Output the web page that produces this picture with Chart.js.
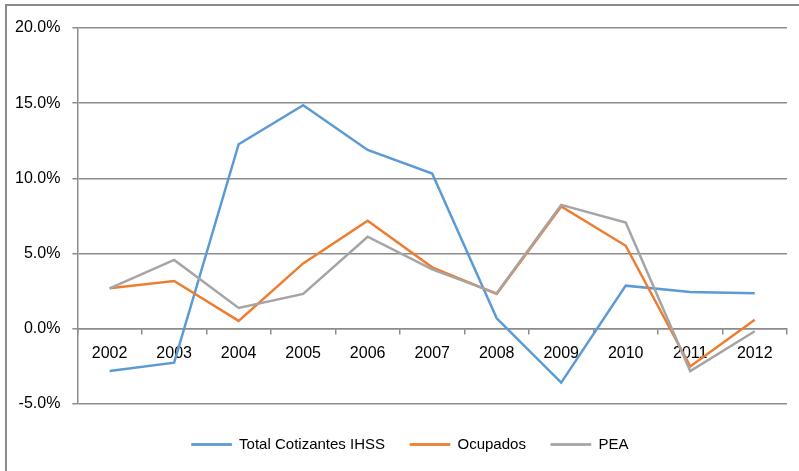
<!DOCTYPE html>
<html>
<head>
<meta charset="utf-8">
<script src="https://cdn.jsdelivr.net/npm/chart.js@4/dist/chart.umd.min.js"></script>
<style>
  html, body { margin: 0; padding: 0; background: #fff; overflow: hidden; }
  #wrap { position: relative; width: 799px; height: 471px; }
  #frame { position: absolute; left: 5px; top: 4px; width: 900px; height: 600px;
           border-top: 2px solid #8c8c8c; border-left: 2px solid #8c8c8c; }
  canvas { position: absolute; left: 0; top: 0; }
</style>
</head>
<body>
<div id="wrap">
  <div id="frame"></div>
  <canvas id="chart" width="799" height="471"></canvas>
</div>
<script>
// years on the category axis
const years = ['2002', '2003', '2004', '2005', '2006', '2007', '2008', '2009', '2010', '2011', '2012'];

// growth rates, in percent
const cotizantes = [-2.8, -2.25, 12.27, 14.87, 11.89, 10.32, 0.7, -3.58, 2.87, 2.45, 2.36];
const ocupados = [2.69, 3.18, 0.53, 4.35, 7.18, 4.09, 2.32, 8.13, 5.52, -2.5, 0.6];
const pea = [2.69, 4.58, 1.39, 2.32, 6.12, 3.95, 2.36, 8.24, 7.07, -2.81, -0.16];

const seriesNames = ['Total Cotizantes IHSS', 'Ocupados', 'PEA'];
const colors = ['#5b9bd5', '#ed7d31', '#a5a5a5'];

Chart.defaults.font.family = "'Liberation Sans Narrow', 'Arial Narrow', 'Liberation Sans', Arial, sans-serif";
Chart.defaults.font.size = 16;
Chart.defaults.color = '#000';

const gridColor = '#8c8c8c';

function lineSet(label, data, color, order) {
    return {
        label: label,
        data: data,
        borderColor: color,
        backgroundColor: color,
        borderWidth: 2.5,
        pointRadius: 0,
        tension: 0,
        order: order
    };
}

// nudge the legend a bit to the right, like in the original
const legendShift = {
    id: 'legendShift',
    afterLayout(chart) {
        chart.legend.left += 15;
        chart.legend.right += 15;
    }
};

new Chart(document.getElementById('chart'), {
    type: 'line',
    data: {
        labels: years,
        datasets: [
            lineSet(seriesNames[0], cotizantes, colors[0], 2),
            lineSet(seriesNames[1], ocupados, colors[1], 1),
            lineSet(seriesNames[2], pea, colors[2], 0)
        ]
    },
    plugins: [legendShift],
    options: {
        responsive: false,
        animation: false,
        layout: { padding: { left: 3, right: 12, top: 28, bottom: 9 } },
        plugins: {
            tooltip: { enabled: false },
            legend: {
                position: 'bottom',
                labels: {
                    boxWidth: 40,
                    boxHeight: 2,
                    padding: 25,
                    font: { size: 15 },
                    sort: (a, b) => a.datasetIndex - b.datasetIndex,
                    generateLabels: function(chart) {
                        const items = Chart.defaults.plugins.legend.labels.generateLabels(chart);
                        items.forEach(it => { it.lineWidth = 0.8; });
                        return items;
                    }
                }
            }
        },
        scales: {
            x: {
                position: { y: 0 },
                offset: true,
                grid: {
                    offset: true,
                    drawOnChartArea: false,
                    tickLength: 5,
                    color: gridColor,
                    lineWidth: 1.5
                },
                border: { color: gridColor, width: 1.5 },
                ticks: { padding: 10, maxRotation: 0 }
            },
            // empty strip that keeps the legend a little below the plot
            gap: {
                type: 'category',
                position: 'bottom',
                grid: { display: false },
                border: { display: false },
                ticks: { display: false },
                afterFit: s => { s.height = 8; }
            },
            y: {
                min: -5,
                max: 20,
                ticks: {
                    stepSize: 5,
                    padding: 12,
                    callback: v => v.toFixed(1) + '%'
                },
                grid: { color: gridColor, lineWidth: 1.5, tickLength: 5 },
                border: { color: gridColor, width: 1.5 }
            }
        }
    }
});
</script>
</body>
</html>
